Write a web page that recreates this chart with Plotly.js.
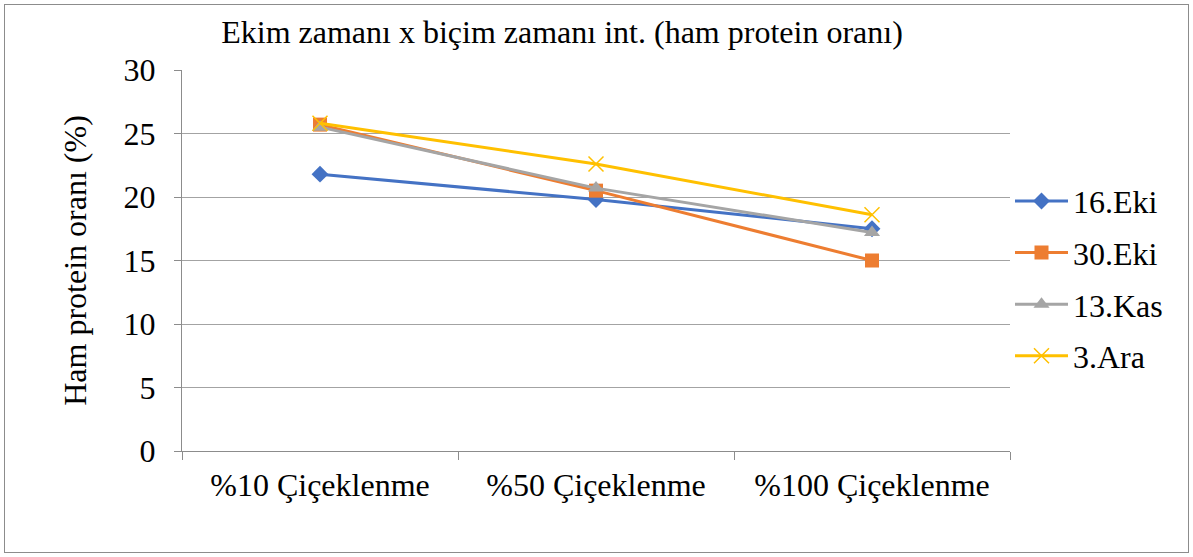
<!DOCTYPE html>
<html>
<head>
<meta charset="utf-8">
<script src="https://cdn.plot.ly/plotly-3.0.1.min.js"></script>
<style>
html,body{margin:0;padding:0;background:#fff;}
#frame{position:absolute;left:4px;top:4px;width:1183px;height:547px;border:1px solid #8c8c8c;}
#chart{position:absolute;left:0;top:0;width:1193px;height:557px;}
</style>
</head>
<body>
<div id="frame"></div>
<div id="chart"></div>
<script>
const categories = ["%10 Çiçeklenme", "%50 Çiçeklenme", "%100 Çiçeklenme"];
const seriesNames = ["16.Eki", "30.Eki", "13.Kas", "3.Ara"];
const eki16 = [21.8, 19.8, 17.5];
const eki30 = [25.7, 20.5, 15.0];
const kas13 = [25.5, 20.7, 17.2];
const ara3  = [25.8, 22.6, 18.6];
const yTicks = [0, 5, 10, 15, 20, 25, 30];

const colors = ["#4472C4", "#ED7D31", "#A5A5A5", "#FFC000"];
const symbols = ["diamond", "square", "triangle-up", "x-thin-open"];
const sizes = [13, 14, 14, 15];
const values = [eki16, eki30, kas13, ara3];

const traces = values.map((v, i) => ({
  type: "scatter",
  mode: "lines+markers",
  x: categories,
  y: v,
  name: seriesNames[i],
  legendgroup: "g" + i,
  line: {color: colors[i], width: 3},
  marker: {symbol: symbols[i], size: sizes[i], color: colors[i], line: {color: colors[i], width: i === 3 ? 1.5 : 0}}
}));

const font = "Liberation Serif, Times New Roman, serif";
const layout = {
  width: 1193, height: 557,
  margin: {l: 182, r: 183, t: 70, b: 106},
  paper_bgcolor: "rgba(0,0,0,0)",
  plot_bgcolor: "rgba(0,0,0,0)",
  font: {family: font, color: "#000", size: 32},
  title: {
    text: "Ekim zamanı x biçim zamanı int. (ham protein oranı)",
    font: {family: font, size: 32, color: "#000"},
    x: 562/1193, xref: "container", xanchor: "center",
    y: 1 - 32/557, yref: "container", yanchor: "middle"
  },
  xaxis: {
    type: "category",
    range: [-0.5, 2.5],
    showgrid: false,
    showline: true, linecolor: "#8c8c8c", linewidth: 1,
    ticks: "outside", tickson: "boundaries", ticklen: 8, tickcolor: "#8c8c8c",
    ticklabelstandoff: 6,
    tickfont: {family: font, size: 32, color: "#000"},
    zeroline: false, fixedrange: true
  },
  yaxis: {
    range: [0, 30],
    tickvals: yTicks,
    showgrid: true, gridcolor: "#a3a3a3", gridwidth: 1,
    showline: true, linecolor: "#8c8c8c", linewidth: 1,
    ticks: "outside", ticklen: 7, tickcolor: "#8c8c8c",
    ticklabelstandoff: 12,
    tickfont: {family: font, size: 32, color: "#000"},
    zeroline: false,
    title: {text: "Ham protein oranı (%)", font: {family: font, size: 32, color: "#000"}, standoff: 27}
  },
  legend: {
    x: 1.0, xanchor: "left", y: 0.728, yanchor: "top",
    font: {family: font, size: 32, color: "#000"},
    tracegroupgap: 7,
    itemwidth: 53,
    bgcolor: "rgba(0,0,0,0)"
  },
  shapes: [{
    type: "rect", xref: "paper", yref: "paper", layer: "above",
    x0: 0.04, x1: 0.9, y0: (451 - 47) / 381, y1: (451 - 62) / 381,
    fillcolor: "#ffffff", line: {width: 0}
  }],
  showlegend: true
};

Plotly.newPlot("chart", traces, layout, {displayModeBar: false, staticPlot: true});
</script>
</body>
</html>
